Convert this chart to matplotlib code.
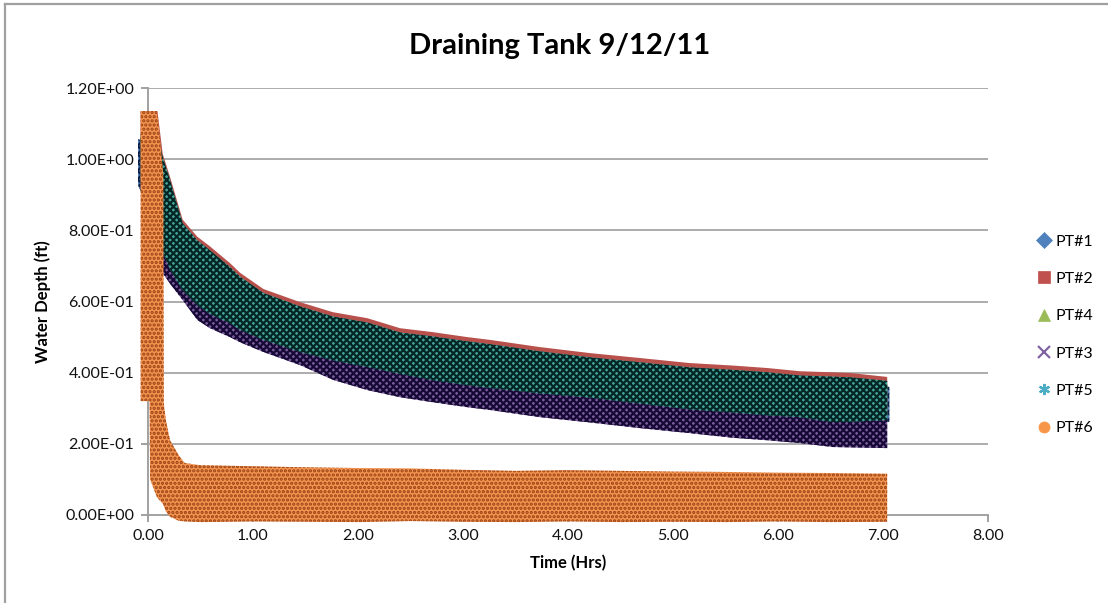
import numpy as np
import matplotlib
matplotlib.use("Agg")
from matplotlib import pyplot as plt
from matplotlib.lines import Line2D
from matplotlib.ticker import FuncFormatter

plt.rcParams['font.family'] = ['Lato', 'DejaVu Sans']
plt.rcParams['hatch.linewidth'] = 1.6

# envelope of each pressure-transducer record (time in hours, depth in ft)
t_band = [-0.07, 0.09, 0.14, 0.21, 0.33, 0.47, 0.59, 0.78, 0.88, 1.10, 1.45, 1.76, 2.09,
          2.40, 2.71, 3.04, 3.26, 3.73, 4.21, 4.69, 5.16, 5.57, 5.90, 6.21, 6.52, 6.69, 7.04]
t_pt1 = [-0.095, 0.09, 0.14, 0.21, 0.33, 0.47, 0.59, 0.78, 0.88, 1.10, 1.45, 1.76, 2.09,
         2.40, 2.71, 3.04, 3.26, 3.73, 4.21, 4.69, 5.16, 5.57, 5.90, 6.21, 6.52, 6.69, 7.06]

pt2_top = [1.135, 1.135, 1.015, 0.950, 0.830, 0.782, 0.755, 0.708, 0.680, 0.635, 0.598, 0.570, 0.553,
           0.525, 0.514, 0.500, 0.492, 0.472, 0.455, 0.441, 0.427, 0.420, 0.413, 0.404, 0.401, 0.399, 0.388]
pt5_top = [1.070, 1.070, 1.006, 0.941, 0.820, 0.772, 0.744, 0.697, 0.669, 0.624, 0.586, 0.558, 0.541,
           0.513, 0.502, 0.488, 0.480, 0.460, 0.443, 0.429, 0.415, 0.408, 0.401, 0.392, 0.389, 0.387, 0.377]
pt5_bot = [0.930, 0.800, 0.740, 0.690, 0.632, 0.590, 0.565, 0.539, 0.520, 0.492, 0.458, 0.435, 0.416,
           0.397, 0.379, 0.365, 0.357, 0.342, 0.330, 0.313, 0.297, 0.288, 0.280, 0.275, 0.261, 0.262, 0.267]
pt3_bot = [0.920, 0.750, 0.680, 0.650, 0.604, 0.548, 0.525, 0.500, 0.485, 0.458, 0.421, 0.380, 0.351,
           0.331, 0.317, 0.303, 0.295, 0.275, 0.260, 0.244, 0.230, 0.217, 0.210, 0.202, 0.191, 0.190, 0.188]
pt1_top = [1.056, 1.040, 0.980, 0.920, 0.800, 0.750, 0.720, 0.680, 0.650, 0.605, 0.568, 0.540, 0.522,
           0.495, 0.484, 0.470, 0.462, 0.442, 0.425, 0.412, 0.398, 0.390, 0.383, 0.375, 0.372, 0.368, 0.360]
pt1_bot = [0.927, 0.810, 0.770, 0.710, 0.640, 0.600, 0.575, 0.548, 0.530, 0.500, 0.466, 0.443, 0.424,
           0.405, 0.387, 0.373, 0.365, 0.350, 0.338, 0.321, 0.305, 0.296, 0.288, 0.283, 0.270, 0.270, 0.262]

t_pt6 = [-0.07, 0.015, 0.02, 0.085, 0.10, 0.145, 0.15, 0.17, 0.21, 0.29, 0.35, 0.50, 1.0,
         1.5, 2.0, 2.5, 3.0, 3.5, 4.0, 4.5, 5.0, 5.5, 6.0, 6.5, 7.04]
pt6_top = [1.135, 1.135, 1.135, 1.135, 1.100, 0.960, 0.315, 0.267, 0.210, 0.169, 0.146, 0.140, 0.137,
           0.134, 0.132, 0.131, 0.127, 0.124, 0.126, 0.124, 0.122, 0.121, 0.119, 0.118, 0.116]
pt6_bot = [0.320, 0.320, 0.100, 0.050, 0.045, 0.030, 0.025, 0.010, -0.005, -0.016, -0.018, -0.020, -0.018,
           -0.019, -0.020, -0.017, -0.019, -0.020, -0.018, -0.020, -0.019, -0.020, -0.018, -0.020, -0.019]

names = ['PT#1', 'PT#2', 'PT#4', 'PT#3', 'PT#5', 'PT#6']
colors = ['#4F81BD', '#C0504D', '#9BBB59', '#8064A2', '#4BACC6', '#F79646']
markers = ['D', 's', '^', 'x', (6, 2, 0), 'o']


def band(ax, t, top, bot, face, dark=None, hatch=None, alpha=1.0):
    ax.fill_between(t, bot, top, facecolor=face, edgecolor='none', lw=0, clip_on=False)
    if dark is not None:
        ax.fill_between(t, bot, top, facecolor='none', edgecolor=dark, lw=0,
                        hatch=hatch, alpha=alpha, clip_on=False)


fig = plt.figure(figsize=(11.08, 6.03), dpi=100)
ax = fig.add_axes([148/1108, 88/603, 840/1108, 427/603])

t = np.array(t_band)
band(ax, t_pt1, pt1_top, pt1_bot, '#4F81BD', '#0b1a40', 'xxxx')
band(ax, t, pt2_top, np.array(pt5_bot) + 0.02, '#B8504C')
band(ax, t, np.array(pt5_top) - 0.01, np.array(pt5_bot) + 0.01, '#76A35A', '#1f3a10', 'xxxx')
band(ax, t, np.array(pt5_top) - 0.02, pt3_bot, '#7A5E9C', '#160935', 'xxxxx')
band(ax, t, pt5_top, pt5_bot, '#46A29A', '#022624', 'xxxxx')
band(ax, t_pt6, pt6_top, pt6_bot, '#F39450', '#7a2500', '....', alpha=0.75)

ax.set_xlim(0, 8)
ax.set_ylim(0, 1.2)
ax.set_xticks(np.arange(0, 9, 1))
ax.set_yticks(np.arange(0, 1.21, 0.2))
ax.xaxis.set_major_formatter(FuncFormatter(lambda v, p: f"{v:.2f}"))
ax.yaxis.set_major_formatter(FuncFormatter(lambda v, p: f"{v:.2E}"))
ax.tick_params(length=5, width=1.3, color='#9A9A9A', labelsize=11.5, labelcolor='#111111', pad=5)
ax.grid(axis='y', color='#A6A6A6', lw=1.3)
ax.set_axisbelow(True)
for s in ['top', 'right']:
    ax.spines[s].set_visible(False)
for s in ['left', 'bottom']:
    ax.spines[s].set_color('#9A9A9A')
    ax.spines[s].set_linewidth(1.3)
    ax.spines[s].set_zorder(0.5)

fig.text(560/1108, 1 - 46/603, 'Draining Tank 9/12/11', fontsize=21, fontweight='bold',
         ha='center', va='center')
ax.set_xlabel('Time (Hrs)', fontsize=12, fontweight='bold', labelpad=9)
ax.set_ylabel('Water Depth (ft)', fontsize=12, fontweight='bold', labelpad=10)

handles = [Line2D([], [], ls='none', marker=m, color=c, markersize=8,
                  markeredgewidth=1.6 if m in ('x', (6, 2, 0)) else 0.5)
           for m, c in zip(markers, colors)]
fig.legend(handles, names, loc='upper left', bbox_to_anchor=(1028/1108, 1 - 228/603),
           frameon=False, fontsize=11.5, handletextpad=0.1, labelspacing=1.45,
           handlelength=1.2, borderaxespad=0)

# chart frame
fig.add_artist(Line2D([5/1108, 1], [1 - 4/603, 1 - 4/603], color='#A0A0A0', lw=1.6))
fig.add_artist(Line2D([5/1108, 5/1108], [0, 1 - 4/603], color='#A0A0A0', lw=1.6))

fig.savefig('out.png', dpi=100)
